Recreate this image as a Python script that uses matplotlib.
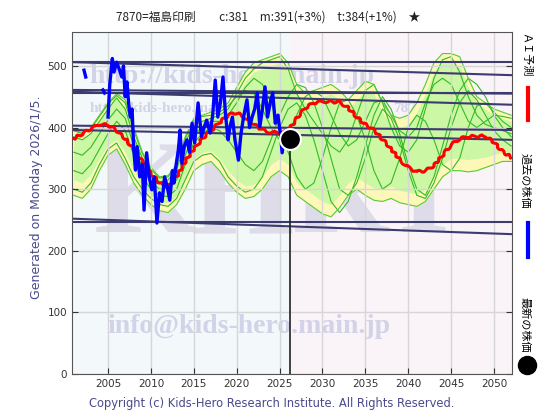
import numpy as np
import matplotlib
matplotlib.use('Agg')
import matplotlib.pyplot as plt
from matplotlib.lines import Line2D

# データ
years = list(range(2001, 2053))

ai_pred = [382, 390, 398, 405, 404, 395, 382, 365, 345, 325, 310, 303, 320, 345, 365, 382,
           395, 408, 420, 424, 416, 405, 396, 392, 391, 394, 415, 432, 440, 442, 442, 441,
           432, 417, 405, 396, 381, 365, 348, 335, 328, 330, 338, 355, 372, 382, 385, 386,
           386, 376, 361, 352]

yellow_hi = [395, 392, 400, 420, 440, 455, 445, 400, 360, 335, 320, 322, 340, 385, 415, 420,
             425, 430, 440, 465, 490, 505, 510, 515, 520, 505, 470, 455, 460, 465, 470, 460,
             445, 460, 475, 470, 440, 420, 415, 420, 440, 470, 505, 520, 520, 515, 480, 450,
             440, 430, 425, 420]
yellow_lo = [290, 285, 300, 330, 355, 365, 340, 310, 290, 275, 265, 262, 275, 300, 330, 340,
             345, 330, 310, 295, 285, 288, 300, 320, 330, 320, 290, 280, 270, 260, 255, 270,
             290, 300, 290, 282, 280, 285, 278, 275, 272, 280, 300, 320, 330, 330, 328, 330,
             335, 340, 345, 345]
green_hi = [385, 380, 390, 410, 430, 448, 430, 385, 350, 325, 312, 315, 332, 375, 405, 410,
            415, 420, 430, 450, 475, 490, 495, 500, 505, 490, 455, 440, 445, 450, 455, 445,
            430, 445, 460, 455, 425, 405, 400, 405, 425, 455, 490, 505, 505, 500, 465, 440,
            430, 420, 415, 410]
green_lo = [315, 310, 325, 350, 372, 380, 360, 330, 305, 290, 280, 278, 290, 320, 350, 360,
            362, 350, 330, 315, 305, 308, 320, 340, 350, 340, 310, 300, 290, 280, 275, 290,
            310, 320, 310, 302, 300, 305, 298, 295, 292, 300, 320, 340, 350, 350, 348, 350,
            352, 356, 360, 360]

green_lines = [
    [385, 380, 390, 410, 430, 448, 430, 385, 350, 325, 312, 315, 332, 375, 405, 410,
     415, 420, 430, 455, 480, 495, 505, 510, 515, 495, 455, 430, 410, 390, 370, 360,
     380, 420, 460, 470, 440, 400, 370, 360, 380, 430, 480, 510, 515, 490, 450, 420,
     405, 400, 395, 390],
    [330, 325, 340, 365, 390, 410, 395, 355, 320, 300, 290, 288, 300, 340, 375, 390,
     400, 395, 380, 360, 340, 330, 345, 380, 420, 450, 470, 465, 440, 400, 350, 300,
     290, 310, 350, 400, 430, 415, 380, 330, 290, 285, 310, 350, 400, 440, 460, 445,
     420, 395, 380, 370],
    [360, 355, 368, 390, 412, 430, 415, 370, 335, 312, 300, 300, 315, 355, 390, 400,
     410, 410, 420, 440, 465, 480, 470, 440, 400, 360, 320, 300, 310, 350, 400, 440,
     445, 420, 380, 330, 300, 310, 350, 400, 420, 410, 380, 340, 330, 350, 400, 435,
     440, 425, 410, 400],
    [300, 295, 310, 340, 365, 375, 350, 320, 300, 285, 275, 272, 285, 315, 345, 355,
     358, 345, 320, 305, 295, 300, 320, 360, 400, 430, 440, 420, 380, 330, 280, 262,
     280, 320, 370, 420, 450, 430, 390, 340, 300, 290, 320, 370, 420, 460, 480, 470,
     450, 420, 400, 385],
    [395, 390, 398, 418, 438, 452, 440, 395, 358, 332, 318, 320, 338, 382, 412, 418,
     420, 425, 435, 450, 460, 455, 430, 400, 380, 390, 420, 450, 460, 450, 420, 390,
     370, 380, 410, 440, 445, 420, 395, 385, 400, 440, 470, 480, 470, 440, 410, 400,
     410, 420, 418, 415],
]

blue_years = [2002.2, 2002.4, np.nan, 2004.4, 2004.6, np.nan,
              2005.0, 2005.2, 2005.5, 2005.7, 2006.0, 2006.3, 2006.6, 2006.8, 2007.0, 2007.2,
              2007.4, 2007.6, 2007.8, 2008.0, 2008.2, 2008.4, 2008.7, 2009.0, 2009.2, 2009.5,
              2009.8, 2010.1, 2010.4, 2010.7, 2011.0, 2011.3, 2011.6, 2011.9, 2012.2, 2012.5,
              2012.7, 2012.9, 2013.2, 2013.4, 2013.6, 2013.9, 2014.2, 2014.5, 2014.8, 2015.1,
              2015.5, 2015.9, 2016.2, 2016.5, 2016.9, 2017.2, 2017.5, 2017.8, 2018.1, 2018.4,
              2018.7, 2019.0, 2019.2, 2019.5, 2019.8, 2020.2, 2020.5, 2020.8, 2021.2, 2021.5,
              2021.8, 2022.1, 2022.4, 2022.7, 2023.0, 2023.3, 2023.6, 2023.9, 2024.2, 2024.5,
              2024.8, 2025.1, 2025.3, 2025.6, 2025.9, 2026.2]
blue_vals = [493, 482, np.nan, 461, 456, np.nan,
             417, 470, 512, 490, 506, 495, 482, 500, 450, 474,
             440, 417, 430, 364, 331, 369, 320, 340, 266, 359,
             320, 299, 320, 245, 294, 280, 320, 304, 282, 330,
             310, 336, 364, 396, 342, 370, 380, 360, 407, 375,
             440, 385, 400, 412, 391, 420, 477, 417, 440, 482,
             420, 380, 400, 417, 380, 347, 390, 417, 445, 400,
             417, 430, 456, 401, 430, 466, 417, 440, 456, 407,
             420, 390, 359, 390, 375, 381]

# 抵抗線・支持線 (2001年の値, 2052年の値)
trend_start = [506, 506, 461, 456, 458, 403, 396, 247, 252]
trend_end = [506, 485, 455, 456, 437, 396, 380, 247, 227]

latest_year = 2026.2
latest_price = 381

title = '7870=福島印刷　　c:381　m:391(+3%)　t:384(+1%)　★'

fig = plt.figure(figsize=(5.6, 4.2), dpi=100)
ax = fig.add_axes([0.1286, 0.1095, 0.7857, 0.8143])
ax.set_xlim(2000.8, 2052.1)
ax.set_ylim(0, 555)

# 背景
ax.axvspan(2000, latest_year, color='#f3f8fa', zorder=0, lw=0)
ax.axvspan(latest_year, 2053, color='#faf3f8', zorder=0, lw=0)
ax.set_xticks(range(2005, 2051, 5))
ax.set_yticks(range(0, 501, 100))
ax.grid(True, color='#d6d6d6', lw=1, zorder=0.5)

# 透かし
wm = '#d2d2e8'
for ch, xp in zip('KHRI', [0.05, 0.27, 0.50, 0.74]):
    ax.text(xp, 0.51, ch, transform=ax.transAxes, fontsize=96, family='Liberation Serif',
            fontweight='bold', color='#dedce8', ha='left', va='center', zorder=0.6)
ax.text(0.04, 0.87, 'http://kids-hero.main.jp', transform=ax.transAxes, fontsize=20,
        family='Liberation Serif', fontweight='bold', color=wm, ha='left', va='center', zorder=0.6)
ax.text(0.04, 0.775, 'http://kids-hero.main.jp', transform=ax.transAxes, fontsize=11,
        family='Liberation Serif', fontweight='bold', color=wm, ha='left', va='center', zorder=0.6)
ax.text(0.73, 0.775, '7870.htm', transform=ax.transAxes, fontsize=11,
        family='Liberation Serif', fontweight='bold', color=wm, ha='left', va='center', zorder=0.6)
ax.text(0.08, 0.14, 'info@kids-hero.main.jp', transform=ax.transAxes, fontsize=20,
        family='Liberation Serif', fontweight='bold', color=wm, ha='left', va='center', zorder=0.6)

# 類似パターンの帯
ax.fill_between(years, yellow_lo, yellow_hi, color='#fdf7b8', lw=0, zorder=1)
ax.fill_between(years, green_lo, green_hi, color='#ccf7a4', lw=0, zorder=1.1)
for g in green_lines:
    ax.plot(years, g, color='#33bb22', lw=0.8, zorder=1.2)
ax.plot(years, yellow_hi, color='#55cc33', lw=0.8, zorder=1.2)
ax.plot(years, yellow_lo, color='#55cc33', lw=0.8, zorder=1.2)

# トレンド線
for s, e in zip(trend_start, trend_end):
    ax.plot([2001, 2052], [s, e], color='#3b3b70', lw=1.5, zorder=2)

# AI予測
ai_line, = ax.plot(years, ai_pred, color='#ff0000', lw=2.2, zorder=3)
ai_line.set_sketch_params(scale=1.2, length=9, randomness=0.5)

# 過去の株価
ax.plot(blue_years, blue_vals, color='#0000ff', lw=2.4, zorder=4)

# 最新の株価
ax.plot([latest_year, latest_year], [0, latest_price], color='#222222', lw=1.2, zorder=4)
ax.plot([latest_year], [latest_price], 'o', color='black', ms=15, mec='white', mew=1.5, zorder=5)

ax.tick_params(direction='in', labelsize=7.5, colors='#333333', length=4,
               right=True, top=False)
for sp in ax.spines.values():
    sp.set_color('#555555')

cjk = ['Noto Sans CJK JP', 'DejaVu Sans']
fig.text(0.478, 0.96, title, ha='center', va='center', fontsize=8.5, family=cjk, color='#222222')
fig.text(0.066, 0.53, 'Generated on Monday 2026/1/5.', rotation=90, ha='center', va='center',
         fontsize=9, color='#4a4a8c')
fig.text(0.485, 0.04, 'Copyright (c) Kids-Hero Research Institute. All Rights Reserved.',
         ha='center', va='center', fontsize=8.3, color='#4a4a8c')

# 凡例 (右側)
fig.text(0.9375, 0.922, 'ＡＩ予測', rotation=-90, ha='center', va='top', fontsize=8, family=cjk)
fig.add_artist(Line2D([0.943, 0.943], [0.714, 0.790], color='#ff0000', lw=3,
                      transform=fig.transFigure))
fig.text(0.9375, 0.636, '過去の株価', rotation=-90, ha='center', va='top', fontsize=8, family=cjk)
fig.add_artist(Line2D([0.943, 0.943], [0.388, 0.469], color='#0000ff', lw=3,
                      transform=fig.transFigure))
fig.text(0.9375, 0.293, '最新の株価', rotation=-90, ha='center', va='top', fontsize=8, family=cjk)
fig.add_artist(Line2D([0.941], [0.130], marker='o', color='black', ms=13,
                      transform=fig.transFigure))

fig.savefig('out.png', dpi=100)
